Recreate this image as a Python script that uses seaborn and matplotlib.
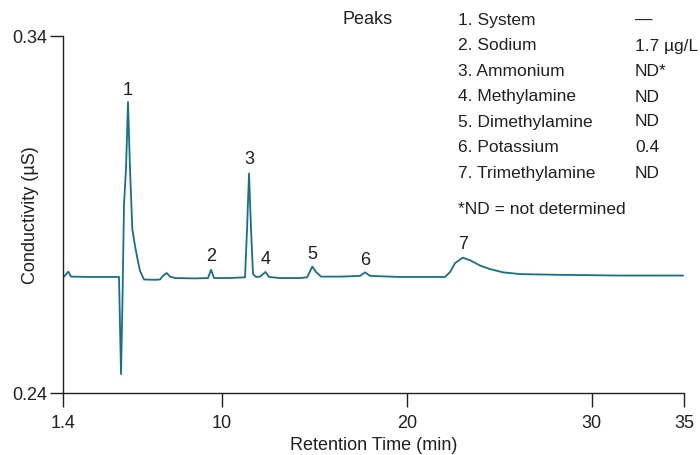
import matplotlib
matplotlib.use("Agg")
import matplotlib.pyplot as plt
import seaborn as sns
import pandas as pd

# Traced chromatogram (retention time in min, conductivity in µS)
time_min = [1.454, 1.687, 1.833, 2.861, 4.430, 4.539, 4.620, 4.701, 4.809, 4.917,
            5.026, 5.150, 5.296, 5.431, 5.567, 5.783, 6.378, 6.649, 6.811, 7.011,
            7.190, 7.461, 8.543, 9.246, 9.409, 9.571, 10.437, 11.249, 11.357, 11.465,
            11.573, 11.681, 11.844, 12.060, 12.358, 12.547, 13.142, 14.225, 14.603, 14.890,
            15.090, 15.361, 16.389, 17.471, 17.742, 18.013, 19.636, 22.071, 22.342, 22.612,
            23.029, 23.424, 23.966, 24.507, 25.210, 26.130, 28.294, 31.541, 34.950]
conductivity = [0.2726, 0.2740, 0.2726, 0.2725, 0.2725, 0.2453, 0.2663, 0.2929, 0.3027, 0.3215,
                0.3027, 0.2859, 0.2812, 0.2775, 0.2742, 0.2718, 0.2717, 0.2718, 0.2728, 0.2736,
                0.2726, 0.2722, 0.2721, 0.2722, 0.2745, 0.2722, 0.2722, 0.2724, 0.2859, 0.3015,
                0.2859, 0.2733, 0.2725, 0.2726, 0.2739, 0.2725, 0.2722, 0.2722, 0.2724, 0.2754,
                0.2739, 0.2726, 0.2726, 0.2728, 0.2738, 0.2728, 0.2725, 0.2725, 0.2739, 0.2764,
                0.2779, 0.2772, 0.2757, 0.2747, 0.2738, 0.2733, 0.2731, 0.2729, 0.2729]

# Peak labels (label centre heights)
peak_ids = ["1", "2", "3", "4", "5", "6", "7"]
peak_times = [4.917, 9.409, 11.465, 12.358, 14.890, 17.742, 23.029]
peak_label_y = [0.3249, 0.2784, 0.3057, 0.2778, 0.2792, 0.2775, 0.2820]

# Peak table
peak_names = ["1. System", "2. Sodium", "3. Ammonium", "4. Methylamine",
              "5. Dimethylamine", "6. Potassium", "7. Trimethylamine"]
peak_values = ["\u2014", "1.7 \u00b5g/L", "ND*", "ND", "ND", "0.4", "ND"]
footnote = "*ND = not determined"

x_ticks = [1.4, 10, 20, 30, 35]
x_tick_labels = ["1.4", "10", "20", "30", "35"]
y_ticks = [0.24, 0.34]
y_tick_labels = ["0.24", "0.34"]

sns.set_style("ticks")
plt.rcParams["font.family"] = ["Liberation Sans", "DejaVu Sans"]
TXT = "#231f20"
LINE = "#16708a"
FS = 13

fig = plt.figure(figsize=(7, 4.56), dpi=100)
ax = fig.add_axes([63 / 700, 1 - 394 / 456, (684 - 63) / 700, (394 - 37) / 456])

df = pd.DataFrame({"t": time_min, "c": conductivity})
sns.lineplot(data=df, x="t", y="c", ax=ax, color=LINE, linewidth=1.3, estimator=None)

ax.set_xlim(1.4, 35)
ax.set_ylim(0.24, 0.34)
ax.set_xticks(x_ticks)
ax.set_xticklabels(x_tick_labels)
ax.set_yticks(y_ticks)
ax.set_yticklabels(y_tick_labels)
ax.tick_params(axis="x", length=10, width=1.0, color=TXT, labelsize=FS, labelcolor=TXT, pad=5)
ax.tick_params(axis="y", length=9.5, width=1.0, color=TXT, labelsize=FS, labelcolor=TXT, pad=2)
for s in ["top", "right"]:
    ax.spines[s].set_visible(False)
for s in ["left", "bottom"]:
    ax.spines[s].set_color(TXT)
    ax.spines[s].set_linewidth(1.0)
ax.set_xlabel("Retention Time (min)", fontsize=FS, color=TXT)
ax.xaxis.set_label_coords(0.5, -(446 - 394) / 357)
ax.xaxis.label.set_va("center")
ax.set_ylabel("Conductivity (\u00b5S)", fontsize=FS, color=TXT)
ax.yaxis.set_label_coords(-(63 - 30.5) / 621, 0.5)
ax.yaxis.label.set_va("center")

for pid, pt, py in zip(peak_ids, peak_times, peak_label_y):
    ax.text(pt, py, pid, ha="center", va="center", fontsize=FS, color=TXT)

# Peak table in figure pixel coordinates
def fy(ypix):
    return 1 - ypix / 456

fig.text(342 / 700, fy(20), "Peaks", ha="left", va="center", fontsize=FS, color=TXT)
row_y = [20, 46, 72, 97, 122, 148, 174]
for name, val, yy in zip(peak_names, peak_values, row_y):
    fig.text(458 / 700, fy(yy), name, ha="left", va="center", fontsize=12.5, color=TXT)
    fig.text(635 / 700, fy(yy), val, ha="left", va="center", fontsize=12.5, color=TXT)
fig.text(458 / 700, fy(210), footnote, ha="left", va="center", fontsize=12.5, color=TXT)

fig.savefig("out.png", dpi=100)
